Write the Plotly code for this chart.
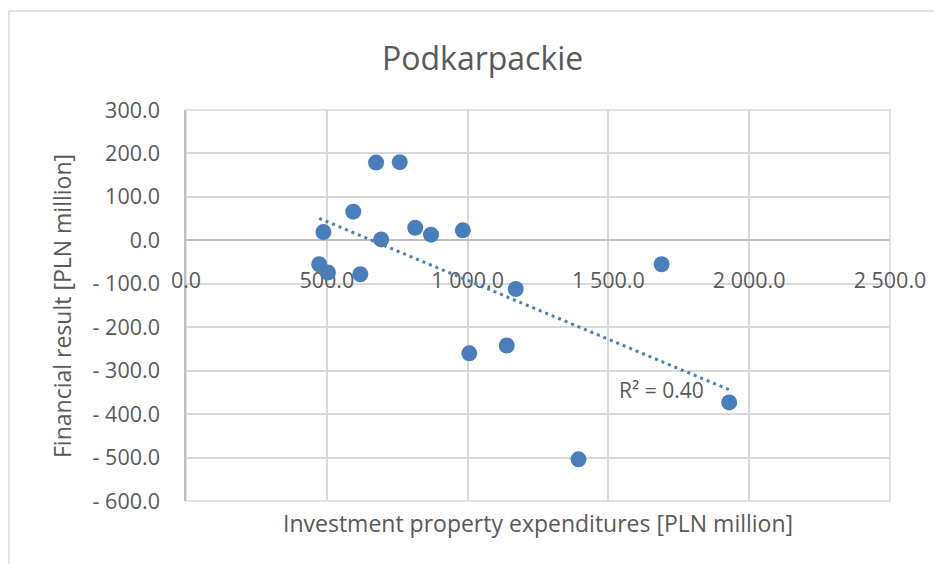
import numpy as np
import plotly.graph_objects as go

# Data
invest_exp = [675, 759, 594, 488, 693, 814, 870, 983, 473, 504, 619, 1171, 1006, 1139, 1394, 1689, 1929]
fin_result = [179, 180, 66, 19, 2, 29, 13, 23, -55, -74, -78, -112, -260, -242, -504, -55, -373]

x_ticks = [0, 500, 1000, 1500, 2000, 2500]
x_tick_labels = ["0.0", "500.0", "1 000.0", "1 500.0", "2 000.0", "2 500.0"]
y_ticks = [-600, -500, -400, -300, -200, -100, 0, 100, 200, 300]
y_tick_labels = ["- 600.0", "- 500.0", "- 400.0", "- 300.0", "- 200.0", "- 100.0", "0.0", "100.0", "200.0", "300.0"]

title_text = "Podkarpackie"
x_title = "Investment property expenditures [PLN million]"
y_title = "Financial result [PLN million]"
r2_label = "R² = 0.40"

BLUE = "#4a7ebb"
TXT = "#595959"
GRID = "#d9d9d9"
FONT = "Open Sans"

x = np.array(invest_exp, dtype=float)
y = np.array(fin_result, dtype=float)
slope, intercept = np.polyfit(x, y, 1)
tx = np.array([x.min(), x.max()])
ty = slope * tx + intercept

fig = go.Figure()
fig.add_trace(go.Scatter(
    x=tx, y=ty, mode="lines",
    line=dict(color=BLUE, width=3, dash="3px,4px"),
    hoverinfo="skip", showlegend=False,
))
fig.add_trace(go.Scatter(
    x=invest_exp, y=fin_result, mode="markers",
    marker=dict(color=BLUE, size=16, line=dict(width=0)),
    showlegend=False,
))

# page body has an 8px margin, so the figure is offset by (8, 8)
OFF = 8
W, H = 942 - OFF, 564 - OFF
L, R, T, B = 186 - OFF, 52, 110 - OFF, 63
pw, ph = W - L - R, H - T - B

def px_x(p):
    return (p - OFF - L) / pw

def px_y(p):
    return (H - B - (p - OFF)) / ph

fig.update_layout(
    width=W, height=H,
    margin=dict(l=L, r=R, t=T, b=B, pad=0),
    paper_bgcolor="white", plot_bgcolor="white",
    font=dict(family=FONT, color=TXT, size=21),
    showlegend=False,
    xaxis=dict(
        range=[0, 2500], tickvals=x_ticks, ticktext=x_tick_labels,
        showgrid=True, gridcolor=GRID, gridwidth=1.5,
        zeroline=False, showline=False,
        anchor="free", position=(0 - (-600)) / 900,
        ticks="outside", ticklen=21, tickcolor="rgba(0,0,0,0)",
        tickfont=dict(family=FONT, size=21.5, color=TXT),
        layer="below traces",
    ),
    yaxis=dict(
        range=[-600, 300], tickvals=y_ticks, ticktext=y_tick_labels,
        showgrid=True, gridcolor=GRID, gridwidth=1.5,
        zeroline=True, zerolinecolor="#bfbfbf", zerolinewidth=1.5,
        showline=True, linecolor="#bfbfbf", linewidth=1.5,
        ticks="outside", ticklen=20, tickcolor="rgba(0,0,0,0)",
        tickfont=dict(family=FONT, size=21.5, color=TXT),
        layer="below traces",
    ),
    shapes=[
        dict(type="rect", xref="paper", yref="paper",
             x0=px_x(9), x1=px_x(960), y0=px_y(580), y1=px_y(11),
             line=dict(color=GRID, width=1.5), fillcolor="rgba(0,0,0,0)", layer="below"),
        dict(type="rect", xref="paper", yref="paper",
             x0=0, x1=1, y0=0, y1=1,
             line=dict(color=GRID, width=1.5), fillcolor="rgba(0,0,0,0)", layer="below"),
    ],
    annotations=[
        dict(text=title_text, xref="paper", yref="paper", x=px_x(482), y=px_y(57),
             showarrow=False, xanchor="center", yanchor="middle",
             font=dict(family=FONT, size=32, color=TXT)),
        dict(text=x_title, xref="paper", yref="paper", x=px_x(538), y=px_y(523),
             showarrow=False, xanchor="center", yanchor="middle",
             font=dict(family=FONT, size=23, color=TXT)),
        dict(text=y_title, xref="paper", yref="paper", x=px_x(62), y=px_y(306),
             showarrow=False, xanchor="center", yanchor="middle", textangle=-90,
             font=dict(family=FONT, size=23, color=TXT)),
        dict(text=r2_label, x=1690, y=-345, xref="x", yref="y",
             showarrow=False, xanchor="center", yanchor="middle",
             font=dict(family=FONT, size=21, color=TXT)),
    ],
)

fig.write_html("out.html")
